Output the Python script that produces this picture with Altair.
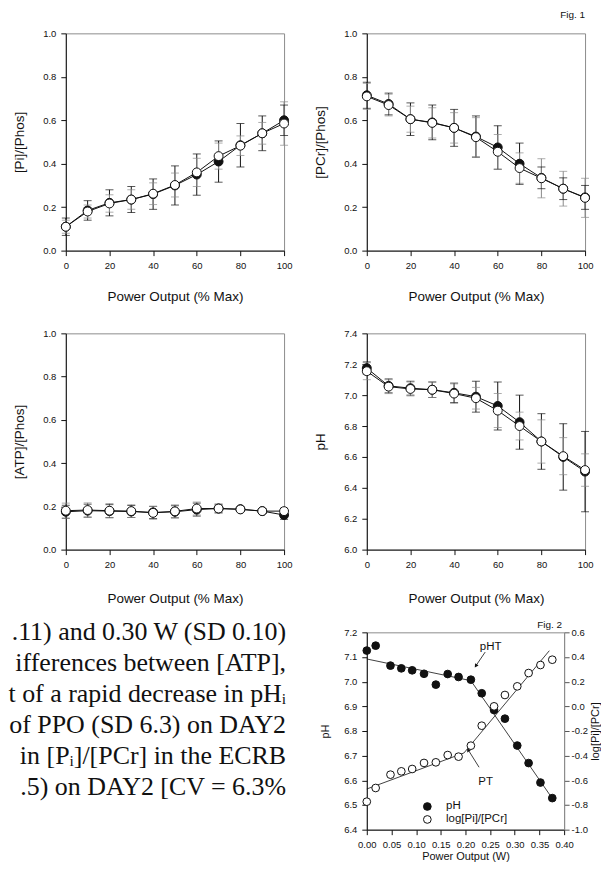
import altair as alt
import pandas as pd

# ---------------- data ----------------
POWER = [0, 10, 20, 30, 40, 50, 60, 70, 80, 90, 100]
X_TICKS = [0, 20, 40, 60, 80, 100]
FRAC_TICKS = [0.0, 0.2, 0.4, 0.6, 0.8, 1.0]
PH_TICKS = [6.0, 6.2, 6.4, 6.6, 6.8, 7.0, 7.2, 7.4]

# [Pi]/[Phos]
PI_D1 = [0.11, 0.185, 0.22, 0.235, 0.26, 0.30, 0.35, 0.41, 0.485, 0.54, 0.60]
PI_D1_SD = [0.04, 0.045, 0.06, 0.06, 0.07, 0.09, 0.095, 0.095, 0.10, 0.08, 0.07]
PI_D2 = [0.11, 0.18, 0.217, 0.235, 0.262, 0.302, 0.36, 0.435, 0.483, 0.54, 0.585]
PI_D2_SD = [0.03, 0.03, 0.04, 0.045, 0.05, 0.055, 0.065, 0.06, 0.045, 0.05, 0.10]

# [PCr]/[Phos]
PCR_D1 = [0.715, 0.675, 0.605, 0.59, 0.565, 0.525, 0.475, 0.40, 0.335, 0.285, 0.245]
PCR_D1_SD = [0.06, 0.05, 0.075, 0.08, 0.085, 0.095, 0.10, 0.095, 0.05, 0.05, 0.055]
PCR_D2 = [0.71, 0.67, 0.605, 0.588, 0.565, 0.522, 0.455, 0.38, 0.333, 0.285, 0.243]
PCR_D2_SD = [0.06, 0.05, 0.06, 0.07, 0.07, 0.09, 0.08, 0.07, 0.09, 0.08, 0.09]

# [ATP]/[Phos]
ATP_D1 = [0.175, 0.18, 0.178, 0.176, 0.172, 0.175, 0.185, 0.19, 0.187, 0.178, 0.16]
ATP_D1_SD = [0.03, 0.03, 0.03, 0.028, 0.028, 0.028, 0.03, 0.02, 0.01, 0.01, 0.02]
ATP_D2 = [0.18, 0.183, 0.18, 0.178, 0.17, 0.177, 0.19, 0.19, 0.186, 0.178, 0.178]
ATP_D2_SD = [0.035, 0.033, 0.033, 0.03, 0.03, 0.03, 0.03, 0.02, 0.01, 0.01, 0.015]

# pH
PH_D1 = [7.175, 7.06, 7.045, 7.035, 7.015, 6.99, 6.93, 6.825, 6.70, 6.60, 6.505]
PH_D1_SD = [0.04, 0.045, 0.045, 0.05, 0.063, 0.10, 0.155, 0.175, 0.18, 0.215, 0.26]
PH_D2 = [7.155, 7.055, 7.04, 7.035, 7.01, 6.98, 6.90, 6.80, 6.70, 6.605, 6.515]
PH_D2_SD = [0.055, 0.045, 0.045, 0.05, 0.063, 0.07, 0.11, 0.09, 0.14, 0.12, 0.105]

# Fig. 2
FIG2_W = [0.000, 0.018, 0.048, 0.070, 0.092, 0.116, 0.140, 0.164, 0.186,
          0.211, 0.233, 0.258, 0.280, 0.305, 0.328, 0.352, 0.376]
FIG2_PH = [7.126, 7.146, 7.065, 7.054, 7.046, 7.032, 6.988, 7.031, 7.019,
           7.008, 6.953, 6.885, 6.850, 6.741, 6.670, 6.591, 6.528]
FIG2_LOG = [-0.773, -0.662, -0.554, -0.527, -0.508, -0.459, -0.454, -0.395, -0.408,
            -0.319, -0.157, 0.000, 0.092, 0.162, 0.270, 0.335, 0.378]
PH_FIT_W = [0.0, 0.211, 0.380]
PH_FIT = [7.092, 7.004, 6.515]
LOG_FIT_W = [0.0, 0.197, 0.370]
LOG_FIT = [-0.670, -0.378, 0.451]
FIG2_X_TICKS = [0.0, 0.05, 0.10, 0.15, 0.20, 0.25, 0.30, 0.35, 0.40]
FIG2_PH_TICKS = [6.4, 6.5, 6.6, 6.7, 6.8, 6.9, 7.0, 7.1, 7.2]
FIG2_LOG_TICKS = [-1.0, -0.8, -0.6, -0.4, -0.2, 0.0, 0.2, 0.4, 0.6]
ANNOT_TEXT = ["pHT", "PT"]
ANNOT_W = [0.251, 0.241]
ANNOT_PH = [7.141, 6.595]
ARROW_W0 = [0.240, 0.2276]
ARROW_PH0 = [7.120, 6.653]
ARROW_W1 = [0.221, 0.2054]
ARROW_PH1 = [7.064, 6.724]
ARROW_ANGLE = [214, 328]
LEGEND_LABELS = ["pH", "log[Pi]/[PCr]"]
FIG_LABELS = ["Fig. 1", "Fig. 2"]

TEXT_LINES = [
    ".11) and 0.30 W (SD 0.10)",
    "ifferences between [ATP],",
    "t of a rapid decrease in pH\u1d62",
    "of PPO (SD 6.3) on DAY2",
    "in [P\u1d62]/[PCr] in the ECRB",
    ".5) on DAY2 [CV = 6.3%",
]

# ---------------- styling ----------------
FONT = "Liberation Sans"
SERIF = "Liberation Serif"
INK = "#111111"
FRAME = "#8c8c8c"
GRAYBAR = "#8a8a8a"


def long_df(m1, s1, m2, s2):
    rows = []
    for x, m, s in zip(POWER, m1, s1):
        rows.append(dict(x=x, mean=m, lo=m - s, hi=m + s, series="DAY1", fill=INK, ecol=INK))
    for x, m, s in zip(POWER, m2, s2):
        rows.append(dict(x=x, mean=m, lo=m - s, hi=m + s, series="DAY2", fill="white", ecol=GRAYBAR))
    return pd.DataFrame(rows)


def fig_label(text, x, y):
    return alt.Chart(pd.DataFrame({"t": [text]})).mark_text(
        align="right", baseline="middle", font=FONT, fontSize=10, color=INK
    ).encode(text="t:N", x=alt.value(x), y=alt.value(y))


def panel(df, ytitle, ydom, yvals, xtitle_y, height, label=None):
    xs = alt.Scale(domain=[0, 100], nice=False, zero=False)
    xa = alt.Axis(values=X_TICKS, title="Power Output (% Max)", titleY=xtitle_y,
                  titleBaseline="middle")
    ys = alt.Scale(domain=ydom, nice=False, zero=False)
    ya = alt.Axis(values=yvals, format=".1f", title=ytitle, titleX=-46, titleY=height / 2,
                  titleBaseline="middle", titleAlign="center", titleAngle=-90)
    base = alt.Chart(df)
    rules = base.mark_rule(strokeWidth=1).encode(
        x=alt.X("x:Q", scale=xs, axis=xa),
        y=alt.Y("lo:Q", scale=ys, axis=ya), y2="hi:Q",
        color=alt.Color("ecol:N", scale=None))
    cap_hi = base.mark_tick(orient="horizontal", size=8, thickness=1).encode(
        x=alt.X("x:Q", scale=xs, axis=xa),
        y=alt.Y("hi:Q", scale=ys, axis=ya),
        color=alt.Color("ecol:N", scale=None))
    cap_lo = base.mark_tick(orient="horizontal", size=8, thickness=1).encode(
        x=alt.X("x:Q", scale=xs, axis=xa),
        y=alt.Y("lo:Q", scale=ys, axis=ya),
        color=alt.Color("ecol:N", scale=None))
    lines = base.mark_line(color=INK, strokeWidth=1).encode(
        x=alt.X("x:Q", scale=xs, axis=xa),
        y=alt.Y("mean:Q", scale=ys, axis=ya),
        detail="series:N")
    pts = base.mark_point(filled=True, shape="circle", size=80, opacity=1,
                          stroke=INK, strokeWidth=1).encode(
        x=alt.X("x:Q", scale=xs, axis=xa),
        y=alt.Y("mean:Q", scale=ys, axis=ya),
        fill=alt.Fill("fill:N", scale=None))
    layers = [rules, cap_hi, cap_lo, lines, pts]
    if label is not None:
        layers.append(label)
    return alt.layer(*layers).properties(width=219, height=height)


p1 = panel(long_df(PI_D1, PI_D1_SD, PI_D2, PI_D2_SD), "[Pi]/[Phos]", [0, 1], FRAC_TICKS, 46, 218)
p2 = panel(long_df(PCR_D1, PCR_D1_SD, PCR_D2, PCR_D2_SD), "[PCr]/[Phos]", [0, 1], FRAC_TICKS, 46, 218,
           label=fig_label(FIG_LABELS[0], 219, -18))
p3 = panel(long_df(ATP_D1, ATP_D1_SD, ATP_D2, ATP_D2_SD), "[ATP]/[Phos]", [0, 1], FRAC_TICKS, 49, 217)
p4 = panel(long_df(PH_D1, PH_D1_SD, PH_D2, PH_D2_SD), "pH", [6.0, 7.4], PH_TICKS, 49, 217)

# ---------------- text block ----------------
txt = alt.Chart(pd.DataFrame({"k": [0]})).mark_text(
    align="right", baseline="alphabetic", font=SERIF, fontSize=26, lineHeight=31, color=INK
).encode(
    text=alt.value(TEXT_LINES), x=alt.value(221), y=alt.value(8)
).properties(width=215, height=198, view=alt.ViewBackground(strokeOpacity=0))

# ---------------- Fig. 2 ----------------
f2 = pd.DataFrame(dict(w=FIG2_W, ph=FIG2_PH, lg=FIG2_LOG))
phfit = pd.DataFrame(dict(w=PH_FIT_W, ph=PH_FIT))
logfit = pd.DataFrame(dict(w=LOG_FIT_W, lg=LOG_FIT))
ann = pd.DataFrame(dict(t=ANNOT_TEXT, w=ANNOT_W, ph=ANNOT_PH, w0=ARROW_W0, ph0=ARROW_PH0,
                        w1=ARROW_W1, ph1=ARROW_PH1, ang=ARROW_ANGLE))

x2s = alt.Scale(domain=[0, 0.4], nice=False, zero=False)
x2a = alt.Axis(values=FIG2_X_TICKS, format=".2f", title="Power Output (W)", titleFontSize=11,
               titleY=27, titleBaseline="middle")
yps = alt.Scale(domain=[6.4, 7.2], nice=False, zero=False)
ypa = alt.Axis(values=FIG2_PH_TICKS, format=".1f", title="pH", titleFontSize=11, titleX=-41,
               titleY=99, titleBaseline="middle", titleAlign="center", titleAngle=-90)
yls = alt.Scale(domain=[-1.0, 0.6], nice=False, zero=False)
yla = alt.Axis(values=FIG2_LOG_TICKS, orient="right", title="log[Pi]/[PCr]", titleFontSize=11,
               titleX=31, titleY=99, titleBaseline="middle", titleAlign="center", titleAngle=-90,
               labelExpr="datum.value < 0 ? '-' + format(-datum.value, '.1f') : format(datum.value, '.1f')",
               domainColor=FRAME, tickColor="#555555", labelPadding=2)
fill_scale = alt.Scale(domain=LEGEND_LABELS, range=[INK, "white"])
legend = alt.Legend(orient="none", legendX=55, legendY=169, title=None, symbolType="circle",
                    symbolSize=60, symbolStrokeColor=INK, symbolStrokeWidth=1, labelFont=FONT,
                    labelFontSize=11.5, labelColor=INK, labelOffset=13, rowPadding=0, padding=0)

ph_pts = alt.Chart(f2).transform_calculate(series="'pH'").mark_point(
    filled=True, shape="circle", size=60, opacity=1, stroke=INK, strokeWidth=1
).encode(
    x=alt.X("w:Q", scale=x2s, axis=x2a),
    y=alt.Y("ph:Q", scale=yps, axis=ypa),
    fill=alt.Fill("series:N", scale=fill_scale, legend=legend))
ph_line = alt.Chart(phfit).mark_line(color=INK, strokeWidth=0.8).encode(
    x=alt.X("w:Q", scale=x2s, axis=x2a),
    y=alt.Y("ph:Q", scale=yps, axis=ypa))
arrows = alt.Chart(ann).mark_rule(color=INK, strokeWidth=0.8).encode(
    x=alt.X("w0:Q", scale=x2s, axis=x2a), x2="w1:Q",
    y=alt.Y("ph0:Q", scale=yps, axis=ypa), y2="ph1:Q")
heads = alt.Chart(ann).mark_point(shape="triangle-up", filled=True, size=18, opacity=1,
                                  color=INK).encode(
    x=alt.X("w1:Q", scale=x2s, axis=x2a),
    y=alt.Y("ph1:Q", scale=yps, axis=ypa),
    angle=alt.Angle("ang:Q", scale=None))
labels = alt.Chart(ann).mark_text(font=FONT, fontSize=11.5, color=INK).encode(
    x=alt.X("w:Q", scale=x2s, axis=x2a),
    y=alt.Y("ph:Q", scale=yps, axis=ypa),
    text="t:N")
ph_layer = alt.layer(ph_line, arrows, heads, labels, ph_pts, fig_label(FIG_LABELS[1], 196, -7))

log_line = alt.Chart(logfit).mark_line(color=INK, strokeWidth=0.8).encode(
    x=alt.X("w:Q", scale=x2s, axis=x2a),
    y=alt.Y("lg:Q", scale=yls, axis=yla))
log_pts = alt.Chart(f2).transform_calculate(series="'log[Pi]/[PCr]'").mark_point(
    filled=True, shape="circle", size=60, opacity=1, stroke=INK, strokeWidth=1
).encode(
    x=alt.X("w:Q", scale=x2s, axis=x2a),
    y=alt.Y("lg:Q", scale=yls, axis=yla),
    fill=alt.Fill("series:N", scale=fill_scale, legend=legend))
log_layer = alt.layer(log_line, log_pts)

fig2 = alt.layer(ph_layer, log_layer).resolve_scale(y="independent").properties(
    width=198, height=198)

chart = alt.concat(p1, p2, p3, p4, txt, fig2, columns=2, spacing=83, bounds="flush",
                   align="none").resolve_scale(fill="independent").properties(padding=0)

chart = chart.configure(font=FONT).configure_axis(
    domainColor=INK, tickColor=INK, tickSize=5, tickWidth=1, domainWidth=1,
    labelFont=FONT, labelFontSize=9.5, labelColor=INK, labelPadding=5,
    titleFont=FONT, titleFontSize=13.5, titleFontWeight="normal", titleColor=INK,
    grid=False, labelFlush=False, labelOverlap=False
).configure_view(stroke=FRAME, strokeWidth=1)

chart.save("out.html", embed_options={"renderer": "svg", "actions": False})
